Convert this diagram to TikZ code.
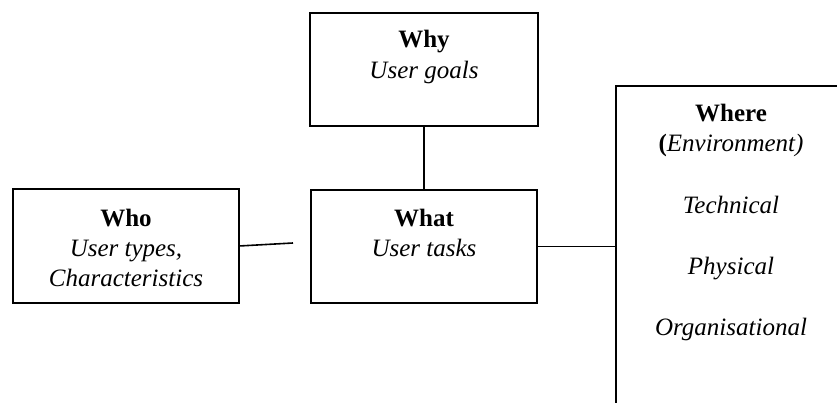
\documentclass[tikz,border=0pt]{standalone}
\usepackage{fontspec}
\setmainfont{Liberation Serif}
\begin{document}
\begin{tikzpicture}[x=1pt,y=-1pt,
  box/.style={draw=black,line width=1.6pt,inner sep=0pt,outer sep=0pt,rectangle},
  txt/.style={align=center,inner sep=0pt,font=\fontsize{25}{30}\selectfont},
  conn/.style={draw=black,line width=1.6pt}]
\useasboundingbox (0,0) rectangle (837,403);
\clip (0,0) rectangle (837,403);
\node[box,minimum width=226pt,minimum height=114pt] (who) at (126,246) {};
\node[box,minimum width=226pt,minimum height=113pt] (what) at (424,246.5) {};
\node[box,minimum width=228pt,minimum height=113pt] (why) at (424,69.5) {};
\node[box,minimum width=260pt,minimum height=360pt,anchor=north west] (where) at (616,86) {};
\node[txt] (whot) at (126,248) {\textbf{Who}\\\textit{User types,}\\\textit{Characteristics}};
\node[txt] (whatt) at (424,232.5) {\textbf{What}\\\textit{User tasks}};
\node[txt,font=\fontsize{25}{31}\selectfont] (whyt) at (424,57) {\textbf{Why}\\\textit{User goals}};
\node[txt,font=\fontsize{25}{30.7}\selectfont] (wheret) at (731,222.5) {\textbf{Where}\\\textbf{(}\textit{Environment)}\\[30.7pt]\textit{Technical}\\[30.7pt]\textit{Physical}\\[30.7pt]\textit{Organisational}};
\coordinate (whoend) at (293,243);
\draw[conn] (who.east) -- (whoend);
\draw[conn] (why.south) -- (what.north);
\draw[conn] (what.east) -- (what.east -| where.west);
\end{tikzpicture}
\end{document}
